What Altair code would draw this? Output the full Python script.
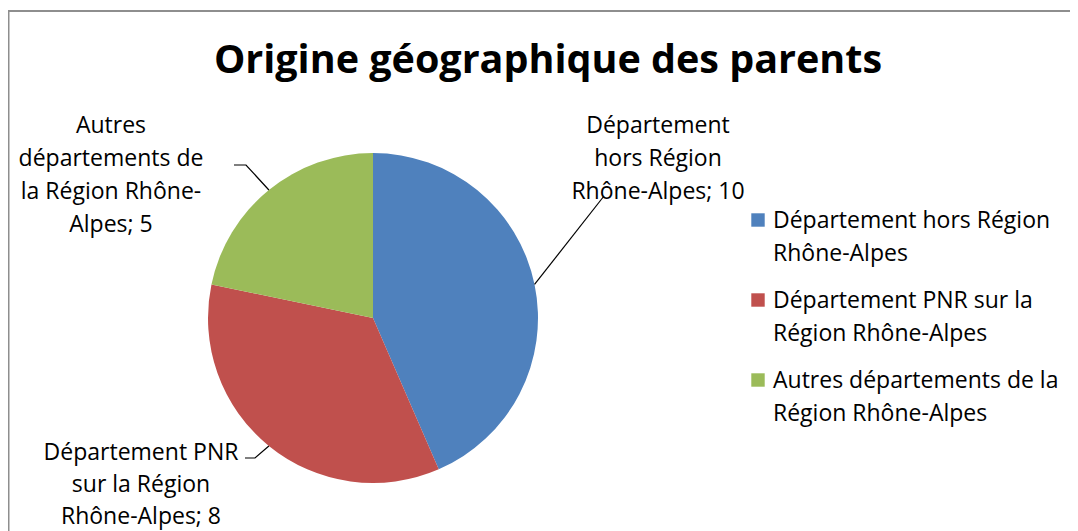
import math
import altair as alt
import pandas as pd

# ---------------- data ----------------
categories = [
    "Département hors Région Rhône-Alpes",
    "Département PNR sur la Région Rhône-Alpes",
    "Autres départements de la Région Rhône-Alpes",
]
values = [10, 8, 5]
colors = ["#4F81BD", "#C0504D", "#9BBB59"]

label_lines = [
    ["Département", "hors Région", "Rhône-Alpes; 10"],
    ["Département PNR", "sur la Région", "Rhône-Alpes; 8"],
    ["Autres", "départements de", "la Région Rhône-", "Alpes; 5"],
]
legend_lines = [
    ["Département hors Région", "Rhône-Alpes"],
    ["Département PNR sur la", "Région Rhône-Alpes"],
    ["Autres départements de la", "Région Rhône-Alpes"],
]
title_text = "Origine géographique des parents"

# ---------------- layout (page pixels) ----------------
W, H = 1062, 523
OX, OY = 8, 8
CX, CY, R = 373, 318, 165
FONT = "Open Sans"
LABEL_SIZE = 23
TITLE_SIZE = 39.5
label_cx = [658, 141, 111]
label_base = [133, 460, 133]
label_lh = [33, 32, 33]
leader_bends = [
    [(604, 196)],
    [(255, 458), (245, 458)],
    [(246, 165), (234, 165)],
]
legend_sq_x = 758
legend_text_x = 773
legend_first_base = 228
legend_item_gap = 80
legend_lh = 33

xs = alt.Scale(domain=[OX, OX + W], range=[0, W], nice=False, zero=False)
ys = alt.Scale(domain=[OY, OY + H], range=[0, H], nice=False, zero=False)
color_scale = alt.Scale(domain=categories, range=colors)

# pie data
pie_df = pd.DataFrame({"cat": categories, "val": values, "idx": list(range(len(values)))})

# leader lines: start at slice mid-angle on the pie edge
total = sum(values)
rows = []
cum = 0
for i, v in enumerate(values):
    mid = (cum + v / 2) / total * 2 * math.pi
    cum += v
    ex = CX + R * math.sin(mid)
    ey = CY - R * math.cos(mid)
    pts = [(ex, ey)] + leader_bends[i]
    for j, (px, py) in enumerate(pts):
        rows.append({"cat": categories[i], "k": j, "px": px, "py": py})
leader_df = pd.DataFrame(rows)

# data labels
lab_rows = []
for i, lines in enumerate(label_lines):
    for j, t in enumerate(lines):
        lab_rows.append({"t": t, "px": label_cx[i], "py": label_base[i] + j * label_lh[i]})
lab_df = pd.DataFrame(lab_rows)

# legend
leg_sq = pd.DataFrame({
    "cat": categories,
    "px": [legend_sq_x] * 3,
    "py": [legend_first_base - 8 + k * legend_item_gap for k in range(3)],
})
leg_rows = []
for i, lines in enumerate(legend_lines):
    for j, t in enumerate(lines):
        leg_rows.append({"t": t, "px": legend_text_x,
                         "py": legend_first_base + i * legend_item_gap + j * legend_lh})
leg_df = pd.DataFrame(leg_rows)

title_df = pd.DataFrame({"t": [title_text], "px": [548], "py": [73]})

one = pd.DataFrame({"a": [0]})

pie = alt.Chart(pie_df).mark_arc(radius=R).encode(
    theta=alt.Theta("val:Q", stack=True),
    color=alt.Color("cat:N", scale=color_scale, legend=None),
    order=alt.Order("idx:O"),
    x=alt.value(CX - OX),
    y=alt.value(CY - OY),
)

leaders = alt.Chart(leader_df).mark_line(color="black", strokeWidth=1.2).encode(
    x=alt.X("px:Q", scale=xs, axis=None),
    y=alt.Y("py:Q", scale=ys, axis=None),
    detail="cat:N",
    order="k:O",
)

labels = alt.Chart(lab_df).mark_text(
    font=FONT, fontSize=LABEL_SIZE, align="center", baseline="alphabetic", color="black"
).encode(
    x=alt.X("px:Q", scale=xs, axis=None),
    y=alt.Y("py:Q", scale=ys, axis=None),
    text="t:N",
)

legend_squares = alt.Chart(leg_sq).mark_square(size=180, opacity=1).encode(
    x=alt.X("px:Q", scale=xs, axis=None),
    y=alt.Y("py:Q", scale=ys, axis=None),
    color=alt.Color("cat:N", scale=color_scale, legend=None),
)

legend_text = alt.Chart(leg_df).mark_text(
    font=FONT, fontSize=LABEL_SIZE, align="left", baseline="alphabetic", color="black"
).encode(
    x=alt.X("px:Q", scale=xs, axis=None),
    y=alt.Y("py:Q", scale=ys, axis=None),
    text="t:N",
)

title = alt.Chart(title_df).mark_text(
    font=FONT, fontSize=TITLE_SIZE, fontWeight="bold", align="center", baseline="alphabetic", color="black"
).encode(
    x=alt.X("px:Q", scale=xs, axis=None),
    y=alt.Y("py:Q", scale=ys, axis=None),
    text="t:N",
)

border_top = alt.Chart(one).mark_rule(color="#8E8E8E", strokeWidth=2).encode(
    x=alt.value(0), x2=alt.value(W), y=alt.value(3)
)
border_left = alt.Chart(one).mark_rule(color="#8E8E8E", strokeWidth=2).encode(
    x=alt.value(0.5), y=alt.value(2), y2=alt.value(H)
)

chart = alt.layer(
    border_top, border_left, pie, leaders, labels, legend_squares, legend_text, title
).properties(
    width=W, height=H, padding=0, autosize=alt.AutoSizeParams(type="none")
).configure_view(stroke=None)

chart.save("out.html", embed_options={"renderer": "svg", "actions": False})
